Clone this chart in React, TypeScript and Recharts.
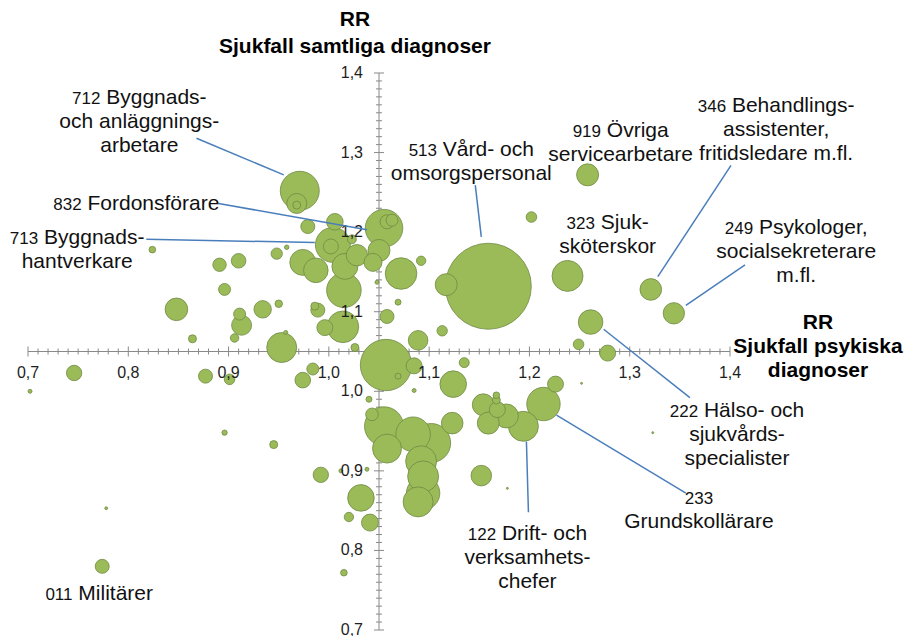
import React from 'react';
import {
  ScatterChart,
  Scatter,
  XAxis,
  YAxis,
  ZAxis,
  ReferenceLine,
  ReferenceDot,
} from 'recharts';

// RR sjukfall psykiska diagnoser (x) och samtliga diagnoser (y) per yrkesgrupp
const rrPsykiska = [
  0.971, 0.968, 0.968, 0.979, 1.006, 1.055, 1.058, 1.063, 1.004, 1.002,
  1.023, 1.028, 1.05, 1.044, 0.948, 0.958, 0.974, 0.987, 1.016, 1.015,
  0.91, 0.891, 0.896, 0.934, 0.95, 0.986, 0.989, 0.913, 0.911, 0.906,
  0.996, 1.014, 0.953, 1.026, 1.058, 1.072, 1.069, 1.048, 1.089, 1.092,
  1.113, 1.202, 1.258, 1.159, 1.117, 1.238, 1.261, 1.249, 1.278, 1.321,
  1.344, 0.864, 0.824, 0.848, 0.746, 0.877, 0.901, 0.984, 0.974, 1.057,
  1.069, 1.085, 0.702, 0.896, 0.945, 0.992, 1.012, 1.038, 1.032, 1.02,
  1.041, 1.015, 0.778, 0.774, 1.043, 1.04, 1.135, 1.124, 1.085, 1.055,
  1.058, 1.084, 1.102, 1.092, 1.094, 1.094, 1.089, 1.123, 1.226, 1.252,
  1.154, 1.167, 1.167, 1.168, 1.159, 1.177, 1.194, 1.214, 1.152, 1.178,
  1.323, 0.957,
];
const rrSamtliga = [
  1.252, 1.236, 1.234, 1.207, 1.213, 1.205, 1.213, 1.215, 1.184, 1.182,
  1.191, 1.171, 1.177, 1.162, 1.173, 1.181, 1.162, 1.152, 1.157, 1.127,
  1.164, 1.159, 1.128, 1.103, 1.11, 1.107, 1.102, 1.083, 1.097, 1.067,
  1.08, 1.081, 1.055, 1.055, 1.094, 1.148, 1.112, 1.137, 1.064, 1.164,
  1.076, 1.219, 1.272, 1.132, 1.134, 1.145, 1.087, 1.059, 1.048, 1.128,
  1.098, 1.066, 1.178, 1.103, 1.023, 1.019, 1.015, 1.028, 1.014, 1.033,
  1.019, 1.032, 1.0, 0.948, 0.933, 0.895, 0.9, 0.902, 0.866, 0.842,
  0.835, 0.772, 0.853, 0.78, 0.971, 0.99, 1.036, 1.009, 1.001, 0.956,
  0.928, 0.946, 0.935, 0.912, 0.893, 0.872, 0.861, 0.96, 1.009, 1.01,
  0.983, 0.995, 0.989, 0.977, 0.96, 0.969, 0.956, 0.984, 0.894, 0.878,
  0.948, 1.074,
];
// antal sysselsatta (tusental), styr bubblornas yta
const antal = [
  38, 10, 1.6, 4.9, 6.9, 35.3, 4.9, 3.6, 30.6, 5.6,
  2, 11.4, 12.1, 8.1, 3.2, 0.5, 16.9, 15.1, 16.9, 29.9,
  5.3, 4.5, 3.6, 7.6, 1.4, 1.6, 4.9, 10, 3.6, 1.8,
  6.4, 25, 22.5, 1.6, 4.9, 25, 0.9, 0.4, 9.6, 2.2,
  2.7, 2.8, 12.1, 184.9, 12.1, 24, 15.1, 2.8, 6.4, 11.7,
  11.4, 1.6, 1.1, 12.8, 5.9, 4.9, 2.8, 3.6, 6.1, 66,
  0.9, 6.4, 0.4, 0.7, 1.6, 5.9, 0.4, 0.4, 17.7, 2.2,
  7.2, 1.1, 0.2, 4.9, 4, 0.9, 2.5, 17.7, 0.4, 38,
  21, 29.9, 38, 24, 24, 27.9, 22.5, 11.7, 6.4, 0.1,
  12.1, 1.1, 1.6, 6.4, 12.1, 14.4, 22.5, 27.9, 10.6, 0.1,
  0.1, 0.4,
];

const majorTicks = [0.7, 0.8, 0.9, 1.0, 1.1, 1.2, 1.3, 1.4];
const tickLabels = ['0,7', '0,8', '0,9', '1,0', '1,1', '1,2', '1,3', '1,4'];

const calloutCodes = ['712', '832', '713', '513', '919', '346', '323', '249', '222', '233', '122', '011'];
const calloutNames = [
  ['Byggnads-', 'och anläggnings-', 'arbetare'],
  ['Fordonsförare'],
  ['Byggnads-', 'hantverkare'],
  ['Vård- och', 'omsorgspersonal'],
  ['Övriga', 'servicearbetare'],
  ['Behandlings-', 'assistenter,', 'fritidsledare m.fl.'],
  ['Sjuk-', 'sköterskor'],
  ['Psykologer,', 'socialsekreterare', 'm.fl.'],
  ['Hälso- och', 'sjukvårds-', 'specialister'],
  ['', 'Grundskollärare'],
  ['Drift- och', 'verksamhets-', 'chefer'],
  ['Militärer'],
];

// where the callout texts sit and where their leader lines run (data units)
const calloutLayout: { x: number; y: number; leader?: number[][] }[] = [
  { x: 0.811, y: 1.37, leader: [[0.868, 1.318], [0.955, 1.272]] },
  { x: 0.808, y: 1.236, leader: [[0.89, 1.236], [1.038, 1.203]] },
  { x: 0.749, y: 1.194, leader: [[0.818, 1.191], [0.986, 1.187]] },
  { x: 1.142, y: 1.305, leader: [[1.146, 1.259], [1.152, 1.194]] },
  { x: 1.291, y: 1.328 },
  { x: 1.446, y: 1.36, leader: [[1.401, 1.284], [1.328, 1.144]] },
  { x: 1.278, y: 1.213 },
  { x: 1.466, y: 1.207, leader: [[1.415, 1.159], [1.356, 1.108]] },
  { x: 1.407, y: 0.977, leader: [[1.274, 1.078], [1.36, 0.992]] },
  { x: 1.369, y: 0.867, leader: [[1.227, 0.97], [1.356, 0.872]] },
  { x: 1.198, y: 0.822, leader: [[1.197, 0.937], [1.199, 0.848]] },
  { x: 0.771, y: 0.746 },
];

const CROSS = 1.05;
const FONT = '"Liberation Sans", Arial, sans-serif';
const AXIS = '#898989';
const GREEN = '#9BBB59';
const BLUE = '#4A7EBB';

const minorTicks = Array.from({ length: 71 }, (_, i) => Math.round((0.7 + i * 0.01) * 100) / 100);
const xTickData = minorTicks.map((v) => ({ x: v, y: CROSS, major: Math.round(v * 100) % 10 === 0 }));
const yTickData = minorTicks.map((v) => ({ x: CROSS, y: v, major: Math.round(v * 100) % 10 === 0 }));
const xLabelData = majorTicks.map((v, i) => ({ x: v, y: CROSS, label: tickLabels[i] }));
const yLabelData = majorTicks.map((v, i) => ({ x: CROSS, y: v, label: tickLabels[i] }));

const bubbles = rrPsykiska
  .map((x, i) => ({ x, y: rrSamtliga[i], z: antal[i] }))
  .sort((a, b) => b.z - a.z);

const XTick = (p: any) => {
  const len = p.payload.major ? 5 : 3;
  return <line x1={p.cx} x2={p.cx} y1={p.cy - len} y2={p.cy + len} stroke={AXIS} strokeWidth={1} />;
};
const YTick = (p: any) => {
  const len = p.payload.major ? 5 : 3;
  return <line x1={p.cx - len} x2={p.cx + len} y1={p.cy} y2={p.cy} stroke={AXIS} strokeWidth={1} />;
};
const XLabel = (p: any) => (
  <text x={p.cx} y={p.cy + 26} textAnchor="middle" fontSize={16} fill="#1e1e1e">
    {p.payload.label}
  </text>
);
const YLabel = (p: any) => (
  <text x={p.cx - 16} y={p.cy + 5} textAnchor="end" fontSize={16} fill="#1e1e1e">
    {p.payload.label}
  </text>
);

function Callout({ cx, cy, code, names }: { cx: number; cy: number; code: string; names: string[] }) {
  return (
    <text x={cx} y={cy} textAnchor="middle" fontSize={21} fill="#111">
      {names.map((n, i) => (
        <tspan key={i} x={cx} dy={i === 0 ? 7 : 24}>
          {i === 0 && <tspan fontSize={17}>{code}</tspan>}
          {i === 0 ? (n ? ' ' + n : '') : n}
        </tspan>
      ))}
    </text>
  );
}

function TopTitle({ cx, cy }: any) {
  return (
    <g fontWeight="bold" fontSize={21} fill="#000" textAnchor="middle">
      <text x={cx - 24} y={cy - 47}>RR</text>
      <text x={cx - 24} y={cy - 20}>Sjukfall samtliga diagnoser</text>
    </g>
  );
}

function RightTitle({ cx, cy }: any) {
  return (
    <g fontWeight="bold" fontSize={21} fill="#000" textAnchor="middle">
      <text x={cx + 88} y={cy - 23}>RR</text>
      <text x={cx + 88} y={cy + 1}>Sjukfall psykiska</text>
      <text x={cx + 88} y={cy + 25}>diagnoser</text>
    </g>
  );
}

export default function App() {
  return (
    <div style={{ position: 'absolute', left: 0, top: 0, fontFamily: FONT }}>
      <ScatterChart width={907} height={636} margin={{ top: 73, right: 177, bottom: 6, left: 28 }}>
        <XAxis type="number" dataKey="x" domain={[0.7, 1.4]} hide />
        <YAxis type="number" dataKey="y" domain={[0.7, 1.4]} hide />
        <ZAxis zAxisId="size" type="number" dataKey="z" domain={[0, 200]} range={[0, 2000 * Math.PI]} />

        <ReferenceLine x={CROSS} stroke={AXIS} strokeWidth={1} zIndex={100} />
        <ReferenceLine y={CROSS} stroke={AXIS} strokeWidth={1} zIndex={100} />
        <Scatter data={xTickData} shape={XTick} isAnimationActive={false} />
        <Scatter data={yTickData} shape={YTick} isAnimationActive={false} />

        <Scatter
          data={bubbles}
          zAxisId="size"
          fill={GREEN}
          stroke="#6F8A44"
          strokeWidth={0.8}
          isAnimationActive={false}
        />

        {calloutLayout.map((l, i) =>
          l.leader ? (
            <ReferenceLine
              key={'leader' + i}
              segment={[
                { x: l.leader[0][0], y: l.leader[0][1] },
                { x: l.leader[1][0], y: l.leader[1][1] },
              ]}
              stroke={BLUE}
              strokeWidth={1.5}
              ifOverflow="visible"
              zIndex={700}
            />
          ) : null
        )}

        <Scatter data={xLabelData} shape={XLabel} isAnimationActive={false} />
        <Scatter data={yLabelData} shape={YLabel} isAnimationActive={false} />

        {calloutLayout.map((l, i) => (
          <ReferenceDot
            key={'callout' + i}
            x={l.x}
            y={l.y}
            r={0}
            ifOverflow="visible"
            zIndex={800}
            shape={(p: any) => <Callout cx={p.cx} cy={p.cy} code={calloutCodes[i]} names={calloutNames[i]} />}
          />
        ))}
        <ReferenceDot x={CROSS} y={1.4} r={0} ifOverflow="visible" zIndex={800} shape={(p: any) => <TopTitle cx={p.cx} cy={p.cy} />} />
        <ReferenceDot x={1.4} y={CROSS} r={0} ifOverflow="visible" zIndex={800} shape={(p: any) => <RightTitle cx={p.cx} cy={p.cy} />} />
      </ScatterChart>
    </div>
  );
}
